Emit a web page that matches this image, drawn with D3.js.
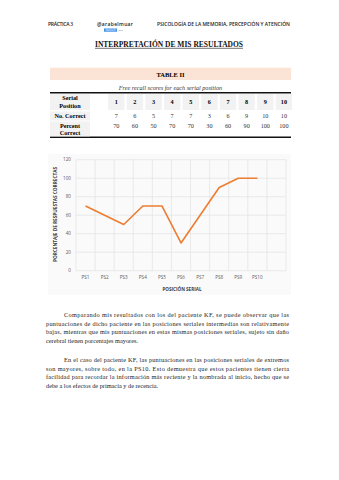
<!DOCTYPE html>
<html><head><meta charset="utf-8">
<script src="https://cdn.jsdelivr.net/npm/d3@7"></script>
<style>body{margin:0;background:#fff}svg{display:block}</style>
</head><body>
<script>
const categories = ["PS1","PS2","PS3","PS4","PS5","PS6","PS7","PS8","PS9","PS10",""];
const percentCorrect = [70,60,50,70,70,30,60,90,100,100];
const serialPositions = [1,2,3,4,5,6,7,8,9,10];
const numCorrect = [7,6,5,7,7,3,6,9,10,10];
const yTicks = [0,20,40,60,80,100,120];
const para1 = [
 "Comparando mis resultados con los del paciente KF, se puede observar que las",
 "puntuaciones de dicho paciente en las posiciones seriales intermedias son relativamente",
 "bajas, mientras que mis puntuaciones en estas mismas posiciones seriales, sujeto sin daño",
 "cerebral tienen porcentajes mayores."];
const para2 = [
 "En el caso del paciente KF, las puntuaciones en las posiciones seriales de extremos",
 "son mayores, sobre todo, en la PS10. Esto demuestra que estos pacientes tienen cierta",
 "facilidad para recordar la información más reciente y la nombrada al inicio, hecho que se",
 "debe a los efectos de primacía y de recencia."];

const W=339,H=480;
const svg=d3.select("body").append("svg").attr("width",W).attr("height",H);
const sans="'Open Sans','Liberation Sans',sans-serif";
const serif="'Liberation Serif','DejaVu Serif',serif";

// Header
svg.append("text").attr("x",48).attr("y",25.5).attr("font-family",sans).attr("font-size",5).attr("font-weight",600).attr("fill","#222").attr("textLength",25).text("PRÁCTICA 3");
svg.append("text").attr("x",97).attr("y",25.5).attr("font-family",sans).attr("font-size",5).attr("font-weight",600).attr("fill","#222").attr("textLength",36).text("@arabelmuar");
svg.append("rect").attr("x",104).attr("y",28.5).attr("width",13).attr("height",3.2).attr("fill","#3b8fe8");
svg.append("text").attr("x",110.5).attr("y",31.2).attr("text-anchor","middle").attr("font-family",sans).attr("font-size",3).attr("fill","#fff").text("wuolah");
svg.append("text").attr("x",117.5).attr("y",31.2).attr("font-family",sans).attr("font-size",2.5).attr("fill","#888").text(".com");
svg.append("text").attr("x",157).attr("y",25.5).attr("font-family",sans).attr("font-size",5).attr("font-weight",600).attr("fill","#222").attr("textLength",133).attr("lengthAdjust","spacingAndGlyphs").text("PSICOLOGÍA DE LA MEMORIA, PERCEPCIÓN Y ATENCIÓN");

// Title
svg.append("text").attr("x",95).attr("y",47).attr("font-family",serif).attr("font-size",7.5).attr("font-weight","bold").attr("fill","#111").attr("textLength",148).attr("lengthAdjust","spacingAndGlyphs").text("INTERPRETACIÓN DE MIS RESULTADOS");
svg.append("line").attr("x1",95).attr("x2",243).attr("y1",48.3).attr("y2",48.3).attr("stroke","#111").attr("stroke-width",0.6);

// Table
svg.append("rect").attr("x",50).attr("y",67.7).attr("width",241).attr("height",12.3).attr("fill","#fbe4d5");
svg.append("text").attr("x",170.5).attr("y",76.5).attr("text-anchor","middle").attr("font-family",serif).attr("font-size",6.5).attr("font-weight","bold").text("TABLE II");
svg.append("text").attr("x",170.5).attr("y",89.7).attr("text-anchor","middle").attr("font-family",serif).attr("font-size",6.2).attr("font-style","italic").attr("fill","#333").text("Free recall scores for each serial position");
svg.append("line").attr("x1",50).attr("x2",291).attr("y1",92.7).attr("y2",92.7).attr("stroke","#111").attr("stroke-width",1.4);
svg.append("line").attr("x1",50).attr("x2",291).attr("y1",137.3).attr("y2",137.3).attr("stroke","#111").attr("stroke-width",1.4);

const tx=d3.scaleBand().domain(serialPositions).range([108.1,292.1]).paddingInner(0.12);
// label cells
const labelRows=[[94,110],[111.5,120.5],[121.5,136.3]];
labelRows.forEach(r=>svg.append("rect").attr("x",50).attr("y",r[0]).attr("width",40).attr("height",r[1]-r[0]).attr("fill","#f2f2f2"));
svg.selectAll(".hc").data(serialPositions).join("rect").attr("x",d=>tx(d)).attr("y",94).attr("width",tx.bandwidth()).attr("height",16).attr("fill","#f2f2f2");
const lab=(t,y)=>svg.append("text").attr("x",70).attr("y",y).attr("text-anchor","middle").attr("font-family",serif).attr("font-size",6.2).attr("font-weight","bold").text(t);
lab("Serial",100);lab("Position",108.3);lab("No. Correct",118.2);lab("Percent",127.8);lab("Correct",135.3);
svg.selectAll(".sp").data(serialPositions).join("text").attr("x",d=>tx(d)+tx.bandwidth()/2).attr("y",104).attr("text-anchor","middle").attr("font-family",serif).attr("font-size",6.2).attr("font-weight","bold").text(d=>d);
svg.selectAll(".nc").data(numCorrect).join("text").attr("x",(d,i)=>tx(serialPositions[i])+tx.bandwidth()/2).attr("y",118.2).attr("text-anchor","middle").attr("font-family",serif).attr("font-size",6.2).attr("fill","#333").text(d=>d);
svg.selectAll(".pc").data(percentCorrect).join("text").attr("x",(d,i)=>tx(serialPositions[i])+tx.bandwidth()/2).attr("y",128.2).attr("text-anchor","middle").attr("font-family",serif).attr("font-size",6.2).attr("fill","#333").text(d=>d);

// Chart
svg.append("rect").attr("x",48).attr("y",154).attr("width",243).attr("height",141).attr("fill","#fafafa");
const x=d3.scaleBand().domain(categories).range([76,286]);
const y=d3.scaleLinear().domain([0,120]).range([270.7,159.7]);
const g=svg.append("g");
g.selectAll(".hg").data(yTicks).join("line").attr("x1",76).attr("x2",286).attr("y1",d=>y(d)).attr("y2",d=>y(d)).attr("stroke","#e3e3e3").attr("stroke-width",0.7);
g.selectAll(".vg").data(categories.map(c=>x(c)).concat([286])).join("line").attr("x1",d=>d).attr("x2",d=>d).attr("y1",y(120)).attr("y2",y(0)).attr("stroke","#e3e3e3").attr("stroke-width",0.7);
g.selectAll(".yl").data(yTicks).join("text").attr("x",71).attr("y",d=>y(d)+1.7).attr("text-anchor","end").attr("font-family",sans).attr("font-size",4.6).attr("fill","#595959").text(d=>d);
g.selectAll(".xl").data(categories.slice(0,10)).join("text").attr("x",d=>x(d)+x.bandwidth()/2).attr("y",278.5).attr("text-anchor","middle").attr("font-family",sans).attr("font-size",4.6).attr("fill","#595959").text(d=>d);
const line=d3.line().x((d,i)=>x(categories[i])+x.bandwidth()/2).y(d=>y(d));
g.append("path").attr("d",line(percentCorrect)).attr("fill","none").attr("stroke","#ed7d31").attr("stroke-width",1.6).attr("stroke-linejoin","round");
svg.append("text").attr("x",182).attr("y",290.5).attr("text-anchor","middle").attr("font-family",sans).attr("font-size",4.6).attr("font-weight","bold").attr("fill","#404040").text("POSICIÓN SERIAL");
svg.append("text").attr("transform","translate(57,214.5) rotate(-90)").attr("text-anchor","middle").attr("font-family",sans).attr("font-size",4.6).attr("font-weight","bold").attr("fill","#404040").attr("textLength",95).attr("lengthAdjust","spacingAndGlyphs").text("PORCENTAJE DE RESPUESTAS  CORRECTAS");

// Paragraphs
function para(lines,y0){
  lines.forEach((t,i)=>{
    const x0=i===0?64:46;
    const tt=svg.append("text").attr("x",x0).attr("y",y0+i*8.7).attr("font-family",serif).attr("font-size",6.3).attr("fill","#222").text(t);
    if(i<lines.length-1) tt.attr("textLength",289-x0).attr("lengthAdjust","spacing");
  });
}
para(para1,317);
para(para2,362);
</script>
</body></html>
